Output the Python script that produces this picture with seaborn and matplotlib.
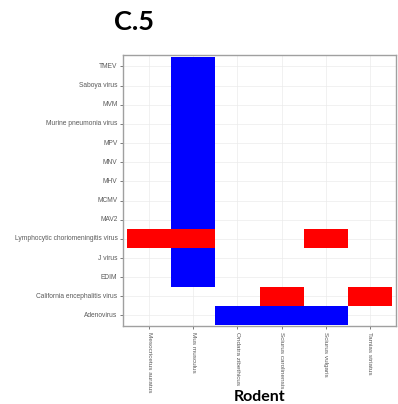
import numpy as np
import pandas as pd
import matplotlib
matplotlib.use("Agg")
import matplotlib.pyplot as plt
from matplotlib.colors import ListedColormap
import seaborn as sns

# Axis categories
rodents = ["Mesocricetus auratus", "Mus musculus", "Ondatra zibethicus",
           "Sciurus carolinensis", "Sciurus vulgaris", "Tamias striatus"]
viruses = ["TMEV", "Saboya virus", "MVM", "Murine pneumonia virus", "MPV",
           "MNV", "MHV", "MCMV", "MAV2", "Lymphocytic choriomeningitis virus",
           "J virus", "EDIM", "California encephalitis virus", "Adenovirus"]

# One record per coloured tile: status 0 = blue, 1 = red
rec_rodent = ["Mus musculus"] * 12 + [
    "Mesocricetus auratus",
    "Ondatra zibethicus",
    "Sciurus carolinensis", "Sciurus carolinensis",
    "Sciurus vulgaris", "Sciurus vulgaris",
    "Tamias striatus",
]
rec_virus = ["TMEV", "Saboya virus", "MVM", "Murine pneumonia virus", "MPV",
             "MNV", "MHV", "MCMV", "MAV2", "Lymphocytic choriomeningitis virus",
             "J virus", "EDIM",
             "Lymphocytic choriomeningitis virus",
             "Adenovirus",
             "California encephalitis virus", "Adenovirus",
             "Lymphocytic choriomeningitis virus", "Adenovirus",
             "California encephalitis virus"]
rec_status = [0, 0, 0, 0, 0, 0, 0, 0, 0, 1, 0, 0,
              1,
              0,
              1, 0,
              1, 0,
              1]

status_colors = ["#0000FF", "#FF0000"]

df = pd.DataFrame({"Rodent": rec_rodent, "Virus": rec_virus, "status": rec_status})
grid = (df.pivot(index="Virus", columns="Rodent", values="status")
          .reindex(index=viruses, columns=rodents))

sns.set_style("white")
fig = plt.figure(figsize=(3.98, 4.04), dpi=100)
ax = fig.add_axes([123 / 398, 1 - 326 / 404, 273 / 398, 271 / 404])

sns.heatmap(grid.astype(float), cmap=ListedColormap(status_colors), vmin=0, vmax=1,
            cbar=False, ax=ax, linewidths=0)

# Light panel grid behind the tiles
ax.set_axisbelow(True)
ax.grid(True, color="#EBEBEB", linewidth=0.5)
ax.set_xlim(-0.1, len(rodents) + 0.1)
ax.set_ylim(len(viruses) + 0.05, -0.1)

for s in ax.spines.values():
    s.set_visible(True)
    s.set_color("#A0A0A0")
    s.set_linewidth(1.0)

ax.set_xticks(np.arange(len(rodents)) + 0.5)
ax.set_yticks(np.arange(len(viruses)) + 0.5)
ax.set_xticklabels(rodents, rotation=-90, ha="center", va="top",
                   fontsize=4.6, color="#5A5A5A", family="Liberation Sans")
ax.set_yticklabels(viruses, rotation=0, fontsize=4.75, color="#5A5A5A",
                   family="Liberation Sans")
ax.tick_params(axis="both", length=2.5, width=0.6, color="#666666", pad=1.5,
               bottom=True, left=True)

ax.set_ylabel("")
ax.set_xlabel("Rodent", fontsize=11.5, fontweight="bold", family="Lato", color="black")
ax.xaxis.set_label_coords(0.5, -0.238)

fig.text(114 / 398, 1 - 30 / 404, "C.5", fontsize=19.5, fontweight="bold",
         family="Lato", ha="left", va="baseline", color="black")

fig.savefig("out.png", dpi=100)
